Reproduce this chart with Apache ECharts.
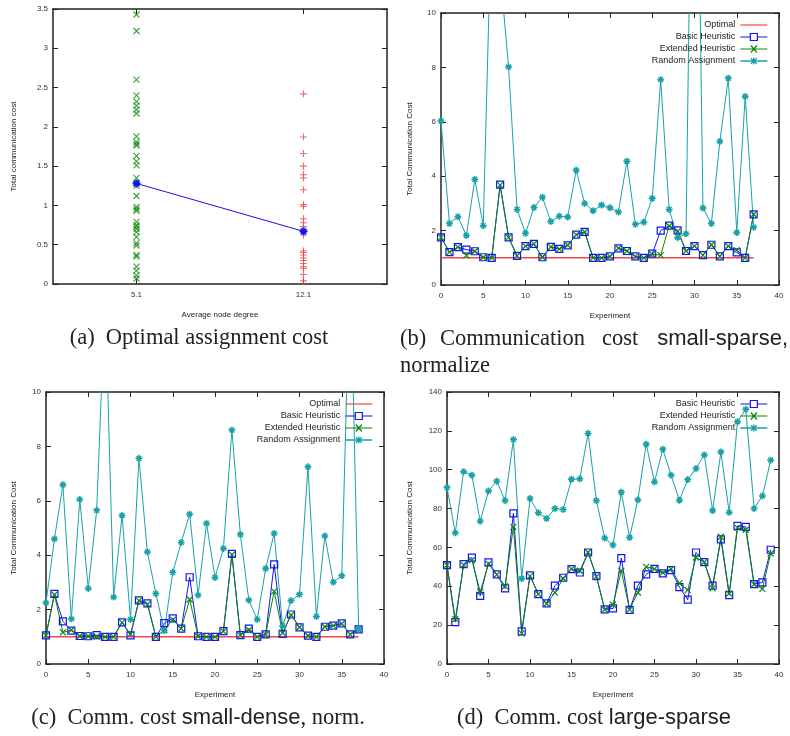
<!DOCTYPE html>
<html>
<head>
<meta charset="utf-8">
<script src="https://cdn.jsdelivr.net/npm/echarts@6/dist/echarts.min.js"></script>
<style>
html, body { margin: 0; padding: 0; background: #fff; }
#chart { width: 790px; height: 736px; }
</style>
</head>
<body>
<div id="chart"></div>
<script>
// (a) optimal assignment cost vs average node degree
const degreeLabels = ['5.1', '12.1'];
const costDeg51 = [3.43, 3.22, 2.60, 2.40, 2.32, 2.27, 2.22, 2.17, 1.88, 1.81, 1.78, 1.76, 1.63, 1.56, 1.51,
  1.35, 1.28, 1.25, 1.12, 0.98, 0.95, 0.93, 0.79, 0.75, 0.73, 0.70, 0.66, 0.60, 0.52, 0.49, 0.37, 0.35,
  0.22, 0.17, 0.11, 0.07];
const costDeg121 = [2.42, 1.87, 1.66, 1.50, 1.39, 1.35, 1.20, 1.01, 0.99, 0.83, 0.78, 0.73, 0.67, 0.62,
  0.42, 0.40, 0.37, 0.33, 0.30, 0.26, 0.22, 0.20, 0.12, 0.04];
const meanCost = [1.28, 0.67];

// (b) small-sparse, normalized
const ssOptimal = [1, 1, 1, 1, 1, 1, 1, 1, 1, 1, 1, 1, 1, 1, 1, 1, 1, 1, 1, 1, 1, 1, 1, 1, 1, 1, 1, 1, 1, 1, 1, 1, 1, 1, 1, 1, 1, 1];
const ssBasic = [1.75, 1.21, 1.39, 1.30, 1.24, 1.02, 1.00, 3.69, 1.75, 1.07, 1.43, 1.51, 1.02, 1.40, 1.33, 1.46,
  1.85, 1.95, 1.00, 1.00, 1.05, 1.35, 1.25, 1.05, 1.00, 1.15, 2.00, 2.18, 2.01, 1.25, 1.43, 1.10, 1.48, 1.05,
  1.43, 1.20, 1.00, 2.60];
const ssExtended = [1.75, 1.21, 1.39, 1.09, 1.24, 1.02, 1.00, 3.67, 1.75, 1.07, 1.43, 1.51, 1.02, 1.40, 1.33, 1.46,
  1.85, 1.95, 1.00, 1.00, 1.05, 1.35, 1.25, 1.05, 1.00, 1.13, 1.10, 2.17, 1.97, 1.25, 1.43, 1.10, 1.48, 1.05,
  1.43, 1.28, 1.00, 2.60];
const ssRandom = [6.03, 2.26, 2.51, 1.82, 3.88, 2.18, 14.0, 11.5, 8.02, 2.78, 1.90, 2.85, 3.23, 2.33, 2.53, 2.50,
  4.22, 3.00, 2.73, 2.94, 2.84, 2.68, 4.55, 2.23, 2.31, 3.19, 7.55, 2.78, 1.74, 1.88, 25.0, 2.83, 2.26, 5.28,
  7.60, 1.93, 6.93, 2.12];

// (c) small-dense, normalized
const sdOptimal = [1, 1, 1, 1, 1, 1, 1, 1, 1, 1, 1, 1, 1, 1, 1, 1, 1, 1, 1, 1, 1, 1, 1, 1, 1, 1, 1, 1, 1, 1, 1, 1, 1, 1, 1, 1, 1, 1];
const sdBasic = [1.05, 2.58, 1.57, 1.23, 1.03, 1.02, 1.06, 1.00, 1.00, 1.53, 1.05, 2.34, 2.23, 1.00, 1.50, 1.68,
  1.30, 3.19, 1.02, 1.00, 1.00, 1.21, 4.05, 1.06, 1.30, 1.00, 1.09, 3.66, 1.11, 1.82, 1.35, 1.04, 1.00, 1.37,
  1.41, 1.49, 1.09, 1.27];
const sdExtended = [1.05, 2.55, 1.16, 1.25, 1.03, 1.02, 1.01, 1.00, 1.00, 1.52, 1.10, 2.33, 2.20, 1.00, 1.24, 1.63,
  1.30, 2.37, 1.02, 1.00, 1.00, 1.20, 4.02, 1.06, 1.25, 1.00, 1.09, 2.67, 1.14, 1.80, 1.35, 1.04, 1.00, 1.37,
  1.41, 1.48, 1.09, 1.27];
const sdRandom = [2.25, 4.60, 6.59, 1.66, 6.05, 2.78, 5.65, 13.5, 2.46, 5.46, 1.64, 7.56, 4.12, 2.59, 1.23, 3.37,
  4.47, 5.51, 2.53, 5.17, 3.18, 4.25, 8.60, 4.76, 2.35, 1.64, 3.51, 4.80, 1.40, 2.33, 2.56, 7.25, 1.75, 4.71,
  3.01, 3.24, 15.0, 1.29];

// (d) large-sparse, absolute
const lsBasic = [50.9, 21.6, 51.4, 54.8, 35.1, 52.3, 46.1, 38.9, 77.5, 16.8, 45.6, 36.0, 31.2, 40.3, 44.4, 48.8,
  47.1, 57.4, 45.2, 28.1, 28.6, 54.5, 27.9, 40.3, 46.1, 49.0, 46.6, 48.3, 39.6, 33.1, 57.4, 52.4, 40.3, 64.1,
  35.5, 71.1, 70.6, 41.1, 42.0, 58.8];
const lsExtended = [50.9, 23.1, 51.0, 53.5, 37.2, 51.5, 46.0, 40.1, 70.6, 15.8, 45.2, 36.0, 31.0, 36.7, 44.0, 49.0,
  48.0, 57.5, 45.0, 28.0, 30.5, 48.0, 28.0, 36.8, 50.0, 49.0, 47.0, 49.0, 41.5, 38.0, 54.8, 52.5, 38.9, 65.5,
  36.3, 70.1, 69.1, 41.0, 38.7, 56.9];
const lsRandom = [90.8, 67.5, 99.0, 97.2, 73.5, 89.1, 94.1, 84.1, 115.5, 44.0, 85.2, 77.8, 74.9, 80.0, 79.5, 95.1,
  95.3, 118.7, 84.1, 64.8, 61.2, 88.4, 65.1, 84.5, 113.1, 93.7, 110.5, 97.2, 84.3, 94.9, 100.6, 107.6, 79.0,
  109.1, 78.0, 124.7, 131.1, 80.0, 86.5, 104.9];

const SANS = '"Liberation Sans", Arial, sans-serif';
const SERIF = '"Liberation Serif", "Times New Roman", serif';
const FRAME = '#222';
const RED = '#f04848', BLUE = '#1414f0', GREEN = '#0b880b', TEAL = '#18a2a8';
const CLEAR = 'rgba(255,255,255,0)';

const SYM_X = 'path://M0,0L10,10M10,0L0,10';
const SYM_PLUS = 'path://M5,0L5,10M0,5L10,5';
const SYM_STAR = 'path://M5,0L5,10M0,5L10,5M1.6,1.6L8.4,8.4M8.4,1.6L1.6,8.4';

const xAxes = [], yAxes = [];

function frameAxis(gi, pos, base, extra) {
  return Object.assign({
    gridIndex: gi,
    position: pos,
    axisLine: { show: true, onZero: false, lineStyle: { color: FRAME, width: 1.5 } },
    axisTick: { show: true, inside: true, length: 5, lineStyle: { color: FRAME, width: 1 } },
    axisLabel: { show: false },
    splitLine: { show: false },
  }, base, extra || {});
}

function addGrid(gi, xBase, yBase, xName, xGap, yName, yGap) {
  const lab = { show: true, fontSize: 8, color: '#333', fontFamily: SANS };
  const nameStyle = { fontSize: 8, color: '#222', fontFamily: SANS };
  xAxes.push(frameAxis(gi, 'bottom', xBase, {
    axisLabel: Object.assign({ margin: 7 }, lab),
    name: xName, nameLocation: 'middle', nameGap: xGap, nameTextStyle: nameStyle,
  }));
  xAxes.push(frameAxis(gi, 'top', xBase));
  yAxes.push(frameAxis(gi, 'left', yBase, {
    axisLabel: Object.assign({ margin: 5 }, lab),
    name: yName, nameLocation: 'middle', nameGap: yGap, nameRotate: 90, nameTextStyle: nameStyle,
  }));
  yAxes.push(frameAxis(gi, 'right', yBase));
}

const expAxis = { type: 'value', min: 0, max: 40, interval: 5 };
addGrid(0, { type: 'category', data: degreeLabels, boundaryGap: true, axisTick: { show: true, inside: true, length: 5, alignWithLabel: true, lineStyle: { color: FRAME } } },
  { type: 'value', min: 0, max: 3.5, interval: 0.5 }, 'Average node degree', 27, 'Total communication cost', 35);
addGrid(1, expAxis, { type: 'value', min: 0, max: 10, interval: 2 }, 'Experiment', 27, 'Total Communication Cost', 27);
addGrid(2, expAxis, { type: 'value', min: 0, max: 10, interval: 2 }, 'Experiment', 27, 'Total Communication Cost', 28);
addGrid(3, expAxis, { type: 'value', min: 0, max: 140, interval: 20 }, 'Experiment', 27, 'Total Communication Cost', 33);

const xy = arr => arr.map((v, i) => [i, v]);

function lineSeries(gi, name, data, color, symbol, size, extra) {
  return Object.assign({
    type: 'line', name: name, xAxisIndex: gi * 2, yAxisIndex: gi * 2,
    data: xy(data), symbol: symbol, symbolSize: size, clip: true,
    lineStyle: { color: color, width: 1 },
    itemStyle: { color: CLEAR, borderColor: color, borderWidth: 1.2 },
    emphasis: { disabled: true }, animation: false,
  }, extra || {});
}

function expSeries(gi, opt, basic, ext, rnd) {
  const out = [];
  if (opt) out.push(lineSeries(gi, 'Optimal', opt, RED, 'none', 0, { lineStyle: { color: RED, width: 1.5 } }));
  out.push(lineSeries(gi, 'Basic Heuristic', basic, BLUE, 'rect', 7));
  out.push(lineSeries(gi, 'Extended Heuristic', ext, GREEN, SYM_X, 6));
  out.push(lineSeries(gi, 'Random Assignment', rnd, TEAL, SYM_STAR, 7, {
    itemStyle: { color: CLEAR, borderColor: TEAL, borderWidth: 1.5 } }));
  return out;
}

const series = [
  { type: 'scatter', xAxisIndex: 0, yAxisIndex: 0, data: costDeg51.map(v => [0, v]), symbol: SYM_X, symbolSize: 6,
    itemStyle: { color: CLEAR, borderColor: GREEN, borderWidth: 1.1 }, animation: false },
  { type: 'scatter', xAxisIndex: 0, yAxisIndex: 0, data: costDeg121.map(v => [1, v]), symbol: SYM_PLUS, symbolSize: 7,
    itemStyle: { color: CLEAR, borderColor: RED, borderWidth: 1.1 }, animation: false },
  { type: 'line', xAxisIndex: 0, yAxisIndex: 0, data: meanCost, symbol: SYM_STAR, symbolSize: 8,
    lineStyle: { color: BLUE, width: 1 }, itemStyle: { color: CLEAR, borderColor: BLUE, borderWidth: 2 }, animation: false },
].concat(
  expSeries(1, ssOptimal, ssBasic, ssExtended, ssRandom),
  expSeries(2, sdOptimal, sdBasic, sdExtended, sdRandom),
  expSeries(3, null, lsBasic, lsExtended, lsRandom)
);

// legend keys drawn as gnuplot-like line + point samples (27 x 8 box)
const legendItems = [
  { name: 'Optimal', icon: 'path://M0,3.4L27,3.4L27,4.6L0,4.6Z',
    itemStyle: { color: RED, borderWidth: 0 } },
  { name: 'Basic Heuristic', icon: 'path://M0,4L10,4M17,4L27,4M10,0.5L17,0.5L17,7.5L10,7.5Z',
    itemStyle: { color: CLEAR, borderColor: BLUE, borderWidth: 1.2 } },
  { name: 'Extended Heuristic', icon: 'path://M0,4L27,4M10.5,0.5L16.5,7.5M16.5,0.5L10.5,7.5',
    itemStyle: { color: CLEAR, borderColor: GREEN, borderWidth: 1.2 } },
  { name: 'Random Assignment', icon: 'path://M0,4L27,4M13.5,0.5L13.5,7.5M10.5,1.2L16.5,6.8M16.5,1.2L10.5,6.8',
    itemStyle: { color: CLEAR, borderColor: TEAL, borderWidth: 1.3 } },
];

function legendAt(right, top, items) {
  return {
    orient: 'vertical', align: 'right', right: right, top: top, padding: 0,
    itemWidth: 27, itemHeight: 8, itemGap: 0, selectedMode: false,
    textStyle: { fontSize: 9, color: '#222', fontFamily: SANS, lineHeight: 12 },
    data: items,
  };
}

const CAP = 22.5;
const capRich = {
  t: { fontFamily: SERIF, fontSize: CAP, color: '#222' },
  s: { fontFamily: SANS, fontSize: CAP - 0.5, color: '#222' },
};
function caption(x, y, text, align) {
  return { type: 'text', x: x, y: y, silent: true,
    style: { text: text, rich: capRich, fontFamily: SERIF, fontSize: CAP, fill: '#222',
      align: align || 'left', verticalAlign: 'middle' } };
}

const option = {
  backgroundColor: '#fff',
  animation: false,
  grid: [
    { left: 53, top: 9, width: 334, height: 275, outerBoundsMode: 'none' },
    { left: 441, top: 13, width: 338, height: 272, outerBoundsMode: 'none' },
    { left: 46, top: 392, width: 338, height: 272, outerBoundsMode: 'none' },
    { left: 447, top: 392, width: 332, height: 272, outerBoundsMode: 'none' },
  ],
  xAxis: xAxes,
  yAxis: yAxes,
  legend: [
    legendAt(22, 19, legendItems),
    legendAt(417, 398, legendItems),
    legendAt(22, 398, legendItems.slice(1)),
  ],
  series: series,
  graphic: [
    caption(199, 338, '{t|(a)  Optimal assignment cost}', 'center'),
    caption(400, 339, '{t|(b)}'),
    caption(440, 339, '{t|Communication}'),
    caption(602, 339, '{t|cost}'),
    caption(788, 339, '{s|small-sparse,}', 'right'),
    caption(400, 366, '{t|normalize}'),
    caption(198, 718, '{t|(c)  Comm. cost }{s|small-dense}{t|, norm.}', 'center'),
    caption(594, 718, '{t|(d)  Comm. cost }{s|large-sparse}', 'center'),
  ],
};

const chart = echarts.init(document.getElementById('chart'));
chart.setOption(option);
</script>
</body>
</html>
